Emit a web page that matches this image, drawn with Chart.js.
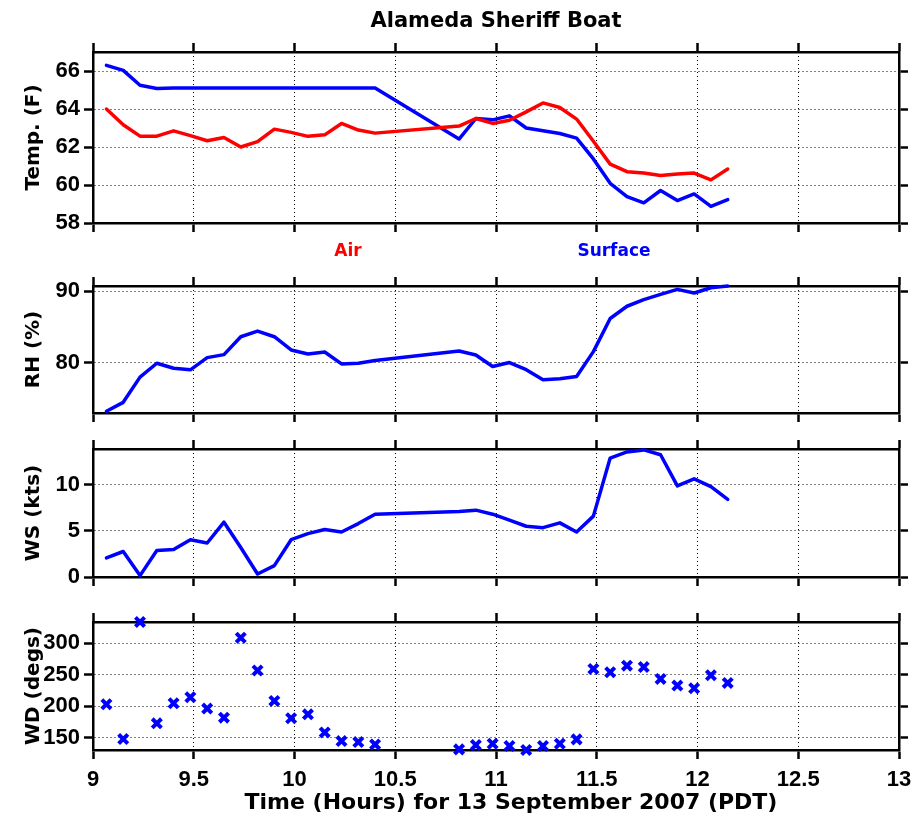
<!DOCTYPE html>
<html>
<head>
<meta charset="utf-8">
<script src="https://cdn.jsdelivr.net/npm/chart.js@4.4.1/dist/chart.umd.min.js"></script>
<style>
html,body{margin:0;padding:0;background:#fff;}
#wrap{position:relative;width:914px;height:823px;overflow:hidden;}
#wrap canvas{position:absolute;left:0;top:0;}
.lbl{position:absolute;font-family:"DejaVu Sans",sans-serif;font-weight:bold;transform:translate(-50%,-50%);white-space:nowrap;z-index:10;}
</style>
</head>
<body>
<div id="wrap">
<canvas id="c1" width="914" height="823"></canvas>
<canvas id="c2" width="914" height="823"></canvas>
<canvas id="c3" width="914" height="823"></canvas>
<canvas id="c4" width="914" height="823"></canvas>
<div class="lbl" style="left:348px;top:250px;font-size:17px;color:#ff0000">Air</div>
<div class="lbl" style="left:614px;top:250px;font-size:17px;color:#0000ff">Surface</div>
<div class="lbl" id="xtitle" style="left:511px;top:801px;font-size:22px;color:#000"></div>
</div>
<script>
// ---- data (hours, PDT) ----
const times = [9.0667, 9.15, 9.2333, 9.3167, 9.4, 9.4833, 9.5667, 9.65, 9.7333, 9.8167, 9.9, 9.9833,
  10.0667, 10.15, 10.2333, 10.3167, 10.4, 10.8167, 10.9, 10.9833, 11.0667, 11.15, 11.2333, 11.3167,
  11.4, 11.4833, 11.5667, 11.65, 11.7333, 11.8167, 11.9, 11.9833, 12.0667, 12.15];
const airTemp = [64.0, 63.17, 62.57, 62.57, 62.85, 62.6, 62.33, 62.5, 62.0, 62.28, 62.94, 62.77,
  62.56, 62.64, 63.24, 62.89, 62.73, 63.1, 63.5, 63.24, 63.41, 63.85, 64.32, 64.08,
  63.47, 62.3, 61.1, 60.7, 60.63, 60.5, 60.58, 60.63, 60.27, 60.84];
const surfaceTemp = [66.3, 66.03, 65.25, 65.08, 65.1, 65.1, 65.1, 65.1, 65.1, 65.1, 65.1, 65.1,
  65.1, 65.1, 65.1, 65.1, 65.1, 62.42, 63.5, 63.43, 63.64, 63.0, 62.85, 62.71,
  62.47, 61.37, 60.09, 59.39, 59.06, 59.71, 59.18, 59.53, 58.87, 59.23];
const relHum = [73.2, 74.44, 77.96, 79.9, 79.21, 78.98, 80.69, 81.11, 83.61, 84.4, 83.61, 81.76,
  81.2, 81.48, 79.81, 79.9, 80.28, 81.62, 81.06, 79.44, 80.0, 79.0, 77.59, 77.73,
  78.06, 81.53, 86.16, 87.87, 88.8, 89.54, 90.23, 89.72, 90.46, 90.69];
const windSpeed = [2.08, 2.77, 0.15, 2.88, 2.99, 4.05, 3.69, 5.95, 3.2, 0.33, 1.24, 4.05,
  4.71, 5.15, 4.89, 5.8, 6.82, 7.12, 7.26, 6.82, 6.17, 5.51, 5.36, 5.88,
  4.89, 6.61, 12.92, 13.58, 13.8, 13.28, 9.89, 10.66, 9.82, 8.43];
const windDir = [203.2, 147.9, 334, 172.9, 204.8, 214.4, 196.3, 181.9, 309, 256.9, 208.5, 180.9,
  187.2, 158.5, 144.7, 143.1, 139.4, 131.5, 138.4, 140.5, 136.8, 130.5, 136.8, 140.5,
  147.4, 259.4, 254.1, 264.6, 262.5, 243.5, 232.9, 228.7, 249.3, 237.2];

const xTicks = [9, 9.5, 10, 10.5, 11, 11.5, 12, 12.5, 13];
const tempTicks = [58, 60, 62, 64, 66];
const rhTicks = [80, 90];
const wsTicks = [0, 5, 10];
const wdTicks = [150, 200, 250, 300];

const chartTitle = 'Alameda Sheriff Boat';
const xTitle = 'Time (Hours) for 13 September 2007 (PDT)';
document.getElementById('xtitle').textContent = xTitle;

// ---- styling / layout ----
const W = 914, H = 823, LEFT = 93, RIGHTW = 914 - 899;
const RED = '#ff0000', BLUE = '#0000ff';
const TICK_FONT = {family: '"Liberation Sans", Arial, sans-serif', size: 22, weight: 'bold'};
const TITLE_FAMILY = '"DejaVu Sans", sans-serif';

const pts = arr => times.map((t, i) => ({x: t, y: arr[i]}));

function gridCfg(onArea) {
  return {display: true, drawOnChartArea: onArea, color: '#000', lineWidth: 1,
          drawTicks: true, tickLength: 9, tickColor: '#000', tickWidth: 2.5};
}
const borderCfg = {display: true, color: '#000', width: 2.5, dash: [1, 3]};

function makePanel(id, p) {
  const setTicks = list => s => { s.ticks = list.map(v => ({value: v})); };
  const noPad = s => { s.paddingLeft = 0; s.paddingRight = 0; s.paddingTop = 0; s.paddingBottom = 0; };
  const scales = {
    x: {
      type: 'linear', position: 'bottom', min: 9, max: 13, bounds: 'data',
      afterBuildTicks: setTicks(xTicks),
      afterFit: s => { s.height = H - p.bottom; noPad(s); },
      grid: gridCfg(true), border: borderCfg,
      ticks: {display: !!p.xLabels, color: '#000', font: TICK_FONT, padding: 8,
              maxRotation: 0, autoSkip: false, callback: v => String(v)},
      title: {display: false}
    },
    x2: {
      type: 'linear', position: 'top', min: 9, max: 13, bounds: 'data',
      afterBuildTicks: setTicks(xTicks),
      afterFit: s => { s.height = p.top; noPad(s); },
      grid: gridCfg(false), border: borderCfg,
      ticks: {display: false},
      title: p.topTitle ? {display: true, text: p.topTitle, color: '#000',
              font: {family: TITLE_FAMILY, size: 21, weight: 'bold'}, padding: {top: 9, bottom: 0}}
            : {display: false}
    },
    y: {
      type: 'linear', position: 'left', min: p.ymin, max: p.ymax, bounds: 'data',
      afterBuildTicks: setTicks(p.yTicks),
      afterFit: s => { s.width = LEFT; noPad(s); },
      grid: gridCfg(true), border: borderCfg,
      ticks: {color: '#000', font: TICK_FONT, padding: 4, autoSkip: false, callback: v => String(v)},
      title: {display: true, text: p.yTitle, color: '#000',
              font: {family: TITLE_FAMILY, size: 20, weight: 'bold'}, padding: {top: 22, bottom: 0}}
    },
    y2: {
      type: 'linear', position: 'right', min: p.ymin, max: p.ymax, bounds: 'data',
      afterBuildTicks: setTicks(p.yTicks),
      afterFit: s => { s.width = RIGHTW; noPad(s); },
      grid: gridCfg(false), border: borderCfg,
      ticks: {display: false}
    }
  };
  return new Chart(document.getElementById(id), {
    type: 'line',
    data: {datasets: p.datasets},
    options: {
      responsive: false, animation: false, devicePixelRatio: 1,
      events: [],
      layout: {padding: 0, autoPadding: false},
      plugins: {legend: {display: false}, tooltip: {enabled: false}, title: {display: false}},
      scales: scales
    }
  });
}

const lineDs = (label, arr, color) => ({
  label: label, data: pts(arr), borderColor: color, backgroundColor: color,
  borderWidth: 3.5, pointRadius: 0, tension: 0, fill: false, clip: false,
  borderJoinStyle: 'round', borderCapStyle: 'round', xAxisID: 'x', yAxisID: 'y'
});

makePanel('c1', {top: 52, bottom: 223, ymin: 58, ymax: 67, yTicks: tempTicks,
  yTitle: 'Temp. (F)', topTitle: chartTitle,
  datasets: [lineDs('Air', airTemp, RED), lineDs('Surface', surfaceTemp, BLUE)]});

makePanel('c2', {top: 286, bottom: 413, ymin: 72.95, ymax: 90.7, yTicks: rhTicks,
  yTitle: 'RH (%)', datasets: [lineDs('RH', relHum, BLUE)]});

makePanel('c3', {top: 449, bottom: 577, ymin: 0, ymax: 13.9, yTicks: wsTicks,
  yTitle: 'WS (kts)', datasets: [lineDs('WS', windSpeed, BLUE)]});

makePanel('c4', {top: 622, bottom: 750, ymin: 130.5, ymax: 334, yTicks: wdTicks,
  yTitle: 'WD (degs)', xLabels: true,
  datasets: [{label: 'WD', data: pts(windDir), showLine: false, borderColor: BLUE,
    backgroundColor: BLUE, pointStyle: 'crossRot', pointRadius: 6.5, pointBorderWidth: 4,
    borderWidth: 4, clip: false, xAxisID: 'x', yAxisID: 'y'}]});
</script>
</body>
</html>
